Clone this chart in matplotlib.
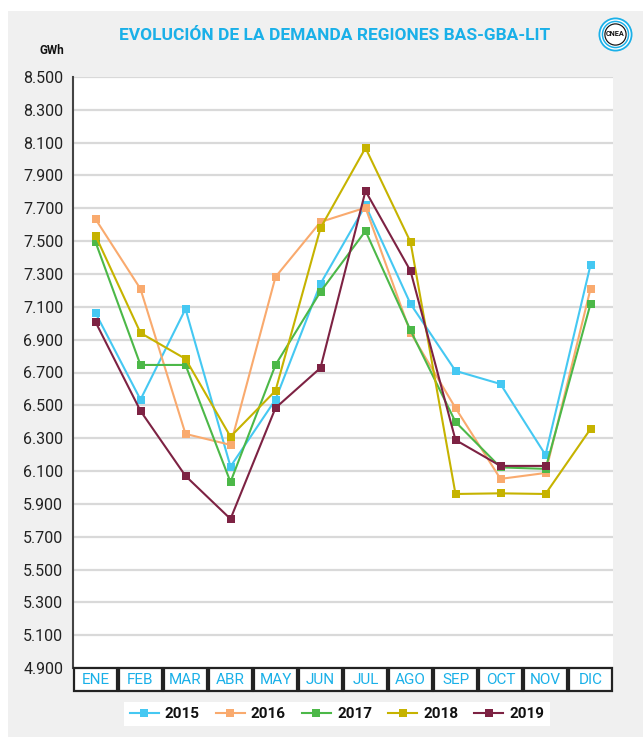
import matplotlib
matplotlib.use("Agg")
import matplotlib.pyplot as plt
from matplotlib.patches import Rectangle, Circle
from matplotlib import transforms
import numpy as np

plt.rcParams['font.family'] = ['Roboto', 'DejaVu Sans']

months = ["ENE", "FEB", "MAR", "ABR", "MAY", "JUN", "JUL", "AGO", "SEP", "OCT", "NOV", "DIC"]

d2015 = [7.063, 6.535, 7.087, 6.127, 6.535, 7.241, 7.718, 7.118, 6.710, 6.630, 6.198, 7.355]
d2016 = [7.635, 7.209, 6.326, 6.259, 7.282, 7.617, 7.704, 6.943, 6.484, 6.052, 6.088, 7.209]
d2017 = [7.495, 6.746, 6.746, 6.033, 6.746, 7.192, 7.562, 6.957, 6.399, 6.122, 6.113, 7.118]
d2018 = [7.534, 6.941, 6.783, 6.309, 6.589, 7.580, 8.068, 7.495, 5.960, 5.964, 5.960, 6.356]
d2019 = [7.008, 6.466, 6.070, 5.808, 6.484, 6.728, 7.806, 7.319, 6.289, 6.131, 6.131]

series = [
    ("2015", d2015, "#45c8f2"),
    ("2016", d2016, "#f9aa6e"),
    ("2017", d2017, "#4cb848"),
    ("2018", d2018, "#c6b300"),
    ("2019", d2019, "#7d2243"),
]

yticks = [4.9 + 0.2 * k for k in range(19)]
ytick_labels = [f"{v:.3f}" for v in yticks]

W, H = 643, 737
fig = plt.figure(figsize=(W / 100, H / 100), dpi=100)
fig.patch.set_facecolor("white")

# grey panel behind everything
panel = Rectangle((8 / W, 0), 1 - 8 / W, (H - 11) / H,
                  transform=fig.transFigure, facecolor="#f0f0f0",
                  edgecolor="none", zorder=-10)
fig.patches.append(panel)

ax = fig.add_axes([73 / W, (H - 668) / H, (613 - 73) / W, (668 - 77) / H])
ax.set_facecolor("white")
ax.set_zorder(1)

for name, vals, col in series:
    x = np.arange(len(vals))
    ax.plot(x, vals, color=col, lw=1.5, marker="s", markersize=5.5,
            markeredgewidth=0, label=name, zorder=3)

ax.set_xlim(-0.5, 11.5)
ax.set_ylim(4.9, 8.5)
ax.set_yticks(yticks)
ax.set_yticklabels(ytick_labels, fontsize=11.5, color="#222222")
ax.tick_params(axis="y", length=0, pad=7)
ax.set_xticks([])
ax.grid(axis="y", color="#d9d9d9", lw=1.6, zorder=0)
ax.set_axisbelow(True)
for s in ["top", "right", "bottom"]:
    ax.spines[s].set_visible(False)
ax.spines["left"].set_color("#444444")
ax.spines["left"].set_linewidth(1.5)

# month cells under the plot
trans = transforms.blended_transform_factory(ax.transData, ax.transAxes)
cell_h = 23 / (668 - 77)
for i, m in enumerate(months):
    ax.add_patch(Rectangle((i - 0.5 + 0.025, -cell_h), 0.95, cell_h,
                           transform=trans, facecolor="white",
                           edgecolor="#222222", lw=1.6, clip_on=False, zorder=4))
    ax.text(i, -cell_h / 2, m, transform=trans, ha="center", va="center",
            fontsize=11, color="#1ab0e8", zorder=5)

# title and unit
fig.text(334.5 / W, (H - 36) / H, "EVOLUCIÓN DE LA DEMANDA REGIONES BAS-GBA-LIT",
         ha="center", va="center", fontsize=12.5, fontweight="bold", color="#1ab0e8")
fig.text(52 / W, (H - 50) / H, "GWh", ha="center", va="center",
         fontsize=8.5, fontweight="bold", color="#111111")

# CNEA emblem
cx, cy = 615.5 / W, (H - 34.5) / H
lax = fig.add_axes([cx - 20 / W, cy - 20 / H, 40 / W, 40 / H])
lax.set_xlim(-20, 20)
lax.set_ylim(-20, 20)
lax.set_aspect("equal")
lax.axis("off")
for r, c in [(17, "#1ab0e8"), (15.2, "white"), (13.8, "#1ab0e8"), (12.3, "white"),
             (11.2, "#111111"), (10.0, "white")]:
    lax.add_patch(Circle((0, 0), r, facecolor=c, edgecolor="none"))
lax.text(0, 0, "CNEA", ha="center", va="center", fontsize=5.2,
         fontweight="bold", color="#111111")

leg = fig.legend(loc="center", bbox_to_anchor=(337 / W, (H - 714) / H), ncol=5,
                 frameon=True, fancybox=False, framealpha=1.0,
                 handlelength=1.9, handletextpad=0.4,
                 columnspacing=1.05, borderpad=0.35,
                 prop={"weight": "bold", "size": 11})
leg.get_frame().set_facecolor("white")
leg.get_frame().set_edgecolor("none")
for t in leg.get_texts():
    t.set_color("#111111")

fig.savefig("out.png", dpi=100)
